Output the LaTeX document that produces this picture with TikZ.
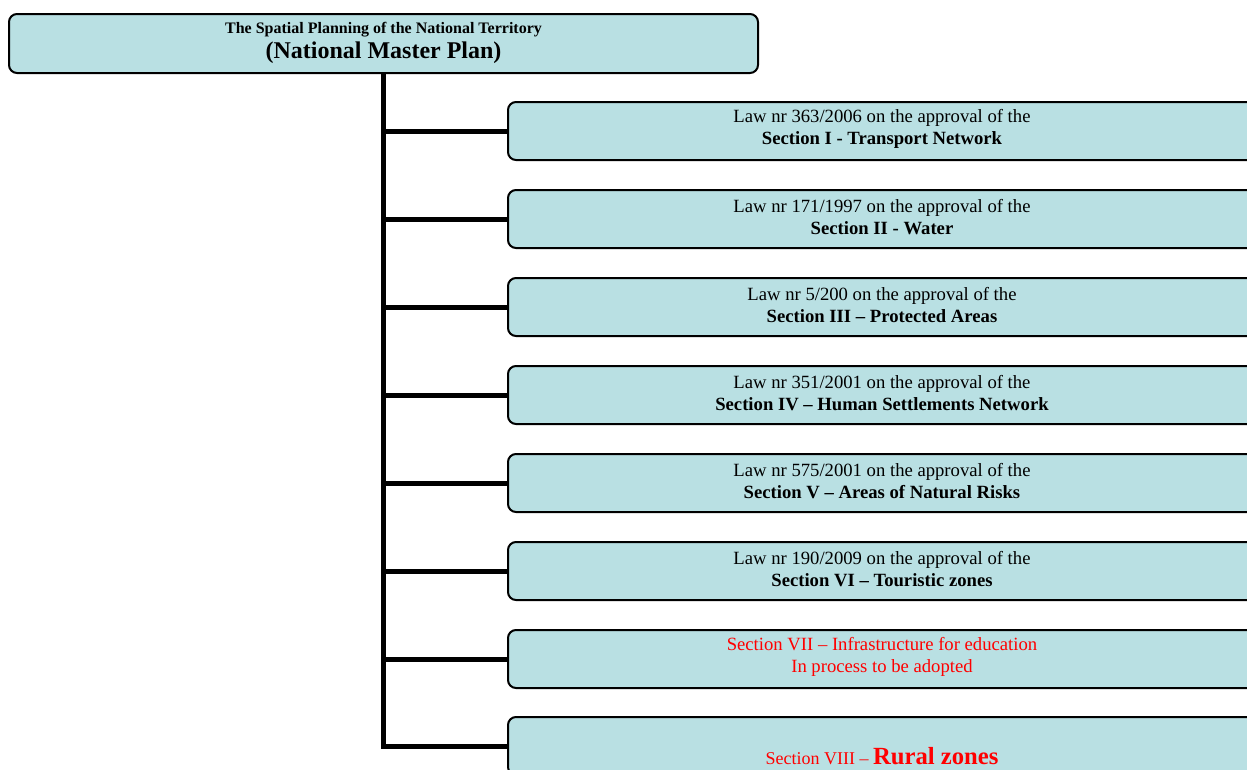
\documentclass[tikz,border=0pt]{standalone}
\usepackage{fontspec}
\setmainfont{Liberation Serif}
\definecolor{boxfill}{HTML}{B9E0E3}
\definecolor{redtxt}{HTML}{FF0000}
\begin{document}
\begin{tikzpicture}[x=0.75pt,y=-0.75pt,
  box/.style={draw=black, line width=1.5pt, fill=boxfill, rounded corners=6pt,
    rectangle, inner sep=0pt, align=center, anchor=north west},
  secbox/.style={box, minimum width=561pt, minimum height=43.5pt},
  sectext/.style={inner sep=0pt, align=center, font=\fontsize{14}{16.5}\selectfont},
  trunk/.style={line width=3.75pt, line cap=rect}]
\useasboundingbox (0,0) rectangle (1247,769);
\clip (0,0) rectangle (1247,769);
\node[box, minimum width=561.75pt, minimum height=44.25pt] (top) at (8,13) {};
\node[inner sep=0pt, align=center, font=\fontsize{12}{17}\selectfont] (toptext) at ([yshift=0.5pt]top.center)
  {\bfseries The Spatial Planning of the National Territory\\[2.25pt]
   {\fontsize{18}{17}\selectfont\bfseries (National Master Plan)}};
\foreach \i/\y in {1/101,2/189,3/277,4/365,5/453,6/541,7/629,8/716}
  \node[secbox] (s\i) at (507,\y) {};
\node[sectext] (t1) at ([yshift=1.2pt]s1.center) {Law nr 363/2006 on the approval of the\\\textbf{Section I - Transport Network}};
\node[sectext] (t2) at ([yshift=1.2pt]s2.center) {Law nr 171/1997 on the approval of the\\\textbf{Section II - Water}};
\node[sectext] (t3) at ([yshift=1.2pt]s3.center) {Law nr 5/200 on the approval of the\\\textbf{Section III – Protected Areas}};
\node[sectext] (t4) at ([yshift=1.2pt]s4.center) {Law nr 351/2001 on the approval of the\\\textbf{Section IV – Human Settlements Network}};
\node[sectext] (t5) at ([yshift=1.2pt]s5.center) {Law nr 575/2001 on the approval of the\\\textbf{Section V – Areas of Natural Risks}};
\node[sectext] (t6) at ([yshift=1.2pt]s6.center) {Law nr 190/2009 on the approval of the\\\textbf{Section VI – Touristic zones}};
\node[sectext, text=redtxt] (t7) at ([yshift=1.2pt]s7.center) {Section VII – Infrastructure for education\\In process to be adopted};
\node[text=redtxt, font=\fontsize{13.5}{15}\selectfont, inner sep=0pt] (t8) at ([yshift=-7.5pt]s8.center)
  {Section VIII – {\fontsize{18.5}{20}\selectfont\bfseries Rural zones}};
\draw[trunk] (top.south) -- (top.south |- s8.west);
\foreach \s in {s1,s2,s3,s4,s5,s6,s7,s8}
  \draw[trunk, line cap=butt] (top.south |- \s.west) -- (\s.west);
\end{tikzpicture}
\end{document}
